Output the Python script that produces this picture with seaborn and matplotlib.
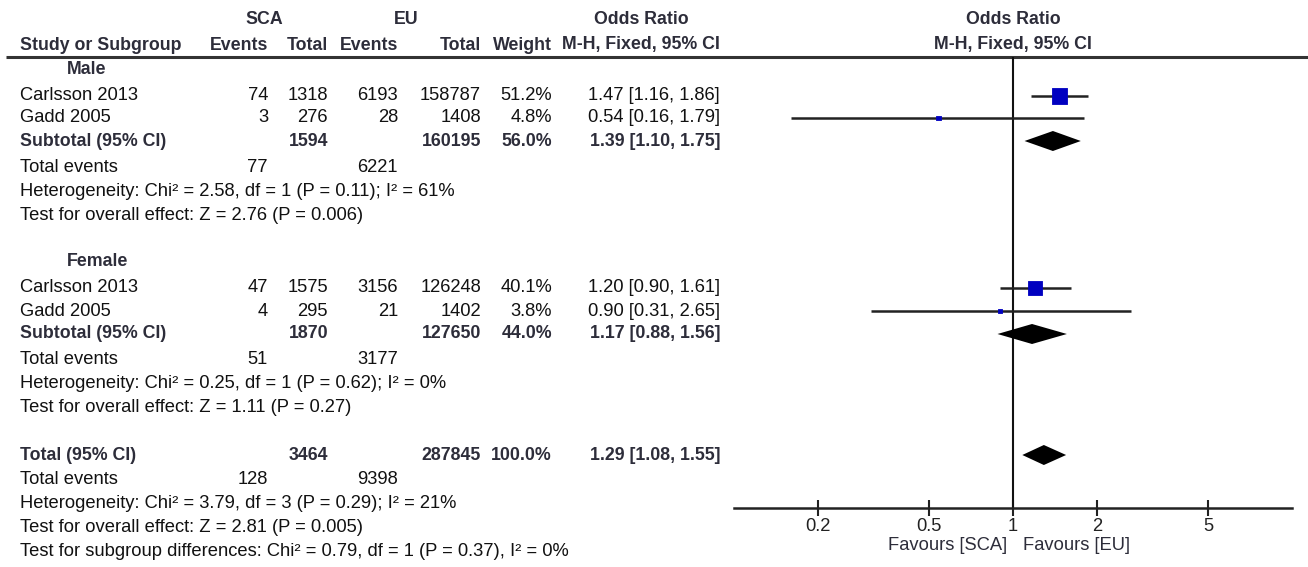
import matplotlib
matplotlib.use("Agg")
import matplotlib.pyplot as plt
import seaborn as sns
import numpy as np
import pandas as pd

# ---------------- data ----------------
studies = ["Carlsson 2013", "Gadd 2005"]

male_sca_events = [74, 3]
male_sca_total = [1318, 276]
male_eu_events = [6193, 28]
male_eu_total = [158787, 1408]
male_weight = [51.2, 4.8]
male_or = [1.47, 0.54]
male_lo = [1.16, 0.16]
male_hi = [1.86, 1.79]
male_sub = dict(sca_total=1594, eu_total=160195, weight=56.0, or_=1.39, lo=1.10, hi=1.75,
                sca_events=77, eu_events=6221)
male_het = "Heterogeneity: Chi² = 2.58, df = 1 (P = 0.11); I² = 61%"
male_test = "Test for overall effect: Z = 2.76 (P = 0.006)"

female_sca_events = [47, 4]
female_sca_total = [1575, 295]
female_eu_events = [3156, 21]
female_eu_total = [126248, 1402]
female_weight = [40.1, 3.8]
female_or = [1.20, 0.90]
female_lo = [0.90, 0.31]
female_hi = [1.61, 2.65]
female_sub = dict(sca_total=1870, eu_total=127650, weight=44.0, or_=1.17, lo=0.88, hi=1.56,
                  sca_events=51, eu_events=3177)
female_het = "Heterogeneity: Chi² = 0.25, df = 1 (P = 0.62); I² = 0%"
female_test = "Test for overall effect: Z = 1.11 (P = 0.27)"

total = dict(sca_total=3464, eu_total=287845, weight=100.0, or_=1.29, lo=1.08, hi=1.55,
             sca_events=128, eu_events=9398)
total_het = "Heterogeneity: Chi² = 3.79, df = 3 (P = 0.29); I² = 21%"
total_test = "Test for overall effect: Z = 2.81 (P = 0.005)"
subgroup_test = "Test for subgroup differences: Chi² = 0.79, df = 1 (P = 0.37), I² = 0%"

tick_values = [0.2, 0.5, 1, 2, 5]
tick_labels = ["0.2", "0.5", "1", "2", "5"]

# ---------------- layout (pixel rows) ----------------
W, H = 1308, 567
Y = dict(h1=20, h2=45, line=57,
         male=70, m1=96, m2=118, msub=141, mev=167, mhet=191, mtest=215,
         female=262, f1=288, f2=311, fsub=334, fev=360, fhet=384, ftest=408,
         tot=455, tev=480, thet=504, ttest=528, tsub=552,
         axis=508, fav=545)

X = dict(name=20, group=67, sca_ev=268, sca_tot=328, eu_ev=398, eu_tot=481, wt=552, ortxt=720)

sns.set_theme(style="white")
plt.rcParams["font.family"] = ["Liberation Sans", "DejaVu Sans"]

FS = 13.2
FSB = 12.8
TXT = "#111111"
HDR = "#2d2d3a"
SQ = "#0000C0"

fig = plt.figure(figsize=(W / 100, H / 100), dpi=100)
fig.patch.set_facecolor("white")

# table axes in pixel coordinates
at = fig.add_axes([0, 0, 1, 1])
at.set_xlim(0, W)
at.set_ylim(H, 0)
at.axis("off")

def t(x, y, s, ha="left", bold=False, color=None, size=None):
    at.text(x, y, s, ha=ha, va="center", fontsize=size or (FSB if bold else FS),
            fontweight="bold" if bold else "normal",
            color=color or (HDR if bold else TXT))

# headers
t(264, Y["h1"], "SCA", ha="center", bold=True)
t(406, Y["h1"], "EU", ha="center", bold=True)
t(641, Y["h1"], "Odds Ratio", ha="center", bold=True)
t(1013, Y["h1"], "Odds Ratio", ha="center", bold=True)
t(X["name"], Y["h2"], "Study or Subgroup", bold=True)
t(X["sca_ev"], Y["h2"], "Events", ha="right", bold=True)
t(X["sca_tot"], Y["h2"], "Total", ha="right", bold=True)
t(X["eu_ev"], Y["h2"], "Events", ha="right", bold=True)
t(X["eu_tot"], Y["h2"], "Total", ha="right", bold=True)
t(X["wt"], Y["h2"], "Weight", ha="right", bold=True)
t(X["ortxt"], Y["h2"], "M-H, Fixed, 95% CI", ha="right", bold=True)
t(1013, Y["h2"], "M-H, Fixed, 95% CI", ha="center", bold=True)
at.plot([6, W], [Y["line"], Y["line"]], color="#333333", lw=2.2, solid_capstyle="butt")

def group_block(title, ykeys, sca_ev, sca_tot, eu_ev, eu_tot, wt, orv, lo, hi, sub, het, test):
    t(X["group"], Y[ykeys[0]], title, bold=True)
    for i, name in enumerate(studies):
        yy = Y[ykeys[1 + i]]
        t(X["name"], yy, name)
        t(X["sca_ev"], yy, f"{sca_ev[i]}", ha="right")
        t(X["sca_tot"], yy, f"{sca_tot[i]}", ha="right")
        t(X["eu_ev"], yy, f"{eu_ev[i]}", ha="right")
        t(X["eu_tot"], yy, f"{eu_tot[i]}", ha="right")
        t(X["wt"], yy, f"{wt[i]:.1f}%", ha="right")
        t(X["ortxt"], yy, f"{orv[i]:.2f} [{lo[i]:.2f}, {hi[i]:.2f}]", ha="right")
    ys = Y[ykeys[3]]
    t(X["name"], ys, "Subtotal (95% CI)", bold=True)
    t(X["sca_tot"], ys, f"{sub['sca_total']}", ha="right", bold=True)
    t(X["eu_tot"], ys, f"{sub['eu_total']}", ha="right", bold=True)
    t(X["wt"], ys, f"{sub['weight']:.1f}%", ha="right", bold=True)
    t(X["ortxt"], ys, f"{sub['or_']:.2f} [{sub['lo']:.2f}, {sub['hi']:.2f}]", ha="right", bold=True)
    ye = Y[ykeys[4]]
    t(X["name"], ye, "Total events")
    t(X["sca_ev"], ye, f"{sub['sca_events']}", ha="right")
    t(X["eu_ev"], ye, f"{sub['eu_events']}", ha="right")
    t(X["name"], Y[ykeys[5]], het)
    t(X["name"], Y[ykeys[6]], test)

group_block("Male", ["male", "m1", "m2", "msub", "mev", "mhet", "mtest"],
            male_sca_events, male_sca_total, male_eu_events, male_eu_total,
            male_weight, male_or, male_lo, male_hi, male_sub, male_het, male_test)
group_block("Female", ["female", "f1", "f2", "fsub", "fev", "fhet", "ftest"],
            female_sca_events, female_sca_total, female_eu_events, female_eu_total,
            female_weight, female_or, female_lo, female_hi, female_sub, female_het, female_test)

t(X["name"], Y["tot"], "Total (95% CI)", bold=True)
t(X["sca_tot"], Y["tot"], f"{total['sca_total']}", ha="right", bold=True)
t(X["eu_tot"], Y["tot"], f"{total['eu_total']}", ha="right", bold=True)
t(X["wt"], Y["tot"], f"{total['weight']:.1f}%", ha="right", bold=True)
t(X["ortxt"], Y["tot"], f"{total['or_']:.2f} [{total['lo']:.2f}, {total['hi']:.2f}]", ha="right", bold=True)
t(X["name"], Y["tev"], "Total events")
t(X["sca_ev"], Y["tev"], f"{total['sca_events']}", ha="right")
t(X["eu_ev"], Y["tev"], f"{total['eu_events']}", ha="right")
t(X["name"], Y["thet"], total_het)
t(X["name"], Y["ttest"], total_test)
t(X["name"], Y["tsub"], subgroup_test)

# ---------------- forest axes ----------------
x0, x1 = 734, 1292
af = fig.add_axes([x0 / W, 0, (x1 - x0) / W, 1])
af.set_facecolor("none")
af.set_xscale("log")
af.set_xlim(0.1, 10)
af.set_ylim(H, 0)
for s in ["left", "right", "top"]:
    af.spines[s].set_visible(False)
af.spines["bottom"].set_position(("data", Y["axis"]))
af.spines["bottom"].set_color("#222222")
af.spines["bottom"].set_linewidth(1.8)
af.set_yticks([])
af.set_xticks(tick_values)
af.set_xticklabels(tick_labels)
af.minorticks_off()
af.tick_params(axis="x", direction="inout", length=12, width=1.5, colors="#222222",
               labelsize=FS, pad=1, bottom=True)
af.grid(False)

# null line
af.vlines(1, Y["line"], Y["axis"], color="#111111", lw=1.5)

# study rows
df = pd.DataFrame({
    "or": male_or + female_or,
    "lo": male_lo + female_lo,
    "hi": male_hi + female_hi,
    "weight": male_weight + female_weight,
    "y": [Y["m1"], Y["m2"], Y["f1"], Y["f2"]],
})
af.hlines(df["y"], df["lo"], df["hi"], color="#222222", lw=1.8, zorder=2)
sns.scatterplot(data=df, x="or", y="y", size="weight", sizes=(0, 2.3 * 100),
                size_norm=(0, 100), marker="s", color=SQ, edgecolor=SQ, linewidth=0.6,
                legend=False, ax=af, zorder=3)
af.set_xlabel("")
af.set_ylabel("")
af.set_ylim(H, 0)

# diamonds
for d, yk in [(male_sub, "msub"), (female_sub, "fsub"), (total, "tot")]:
    yc = Y[yk]
    hh = 10
    af.fill([d["lo"], d["or_"], d["hi"], d["or_"]], [yc, yc - hh, yc, yc + hh],
            color="black", lw=0, zorder=3)

t(1007, Y["fav"], "Favours [SCA]", ha="right", color=HDR)
t(1023, Y["fav"], "Favours [EU]", ha="left", color=HDR)

fig.savefig("out.png", dpi=100, facecolor="white")
